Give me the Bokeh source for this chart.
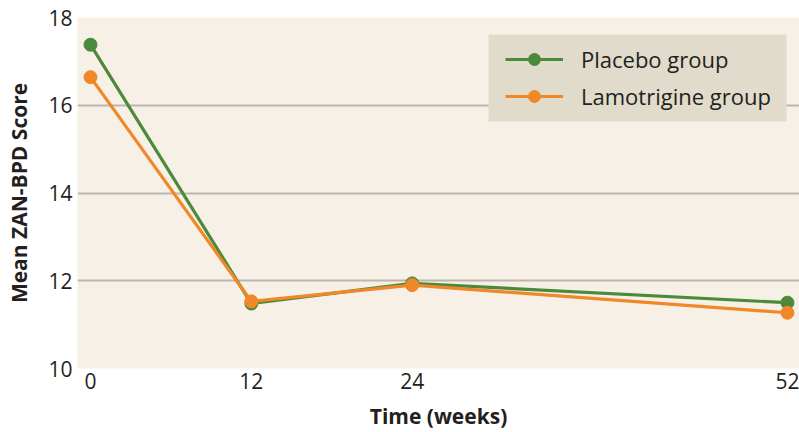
from bokeh.plotting import figure
from bokeh.models import FixedTicker, Legend, LegendItem, Range1d, BoxAnnotation
from bokeh.embed import file_html
from bokeh.resources import INLINE

weeks = [0, 12, 24, 52]
placebo = [17.38, 11.48, 11.94, 11.50]
lamotrigine = [16.64, 11.53, 11.90, 11.27]
series_names = ["Placebo group", "Lamotrigine group"]
x_ticks = [0, 12, 24, 52]
y_ticks = [10, 12, 14, 16, 18]

GREEN = "#4b8a3b"
ORANGE = "#f0882a"
FONT = "Open Sans"

p = figure(width=799, height=432, output_backend="svg", toolbar_location=None,
           x_range=Range1d(-0.97, 52.9), y_range=Range1d(10, 18),
           min_border_left=77, min_border_right=0, min_border_top=17, min_border_bottom=64)
p.background_fill_color = "#f7f0e6"
p.border_fill_color = "white"
p.outline_line_color = None

p.xgrid.grid_line_color = None
p.ygrid.grid_line_color = "#bdb6ae"
p.ygrid.grid_line_width = 2
p.ygrid.ticker = FixedTicker(ticks=y_ticks)

for ax in (p.xaxis[0], p.yaxis[0]):
    ax.axis_line_color = None
    ax.major_tick_line_color = None
    ax.minor_tick_line_color = None
    ax.major_tick_out = 0
    ax.major_tick_in = 0
    ax.minor_tick_out = 0
    ax.minor_tick_in = 0
    ax.major_label_text_font = FONT
    ax.major_label_text_font_size = "21px"
    ax.major_label_text_color = "#231f20"
    ax.axis_label_text_font = FONT
    ax.axis_label_text_font_style = "bold"
    ax.axis_label_text_font_size = "21px"
    ax.axis_label_text_color = "#231f20"

p.xaxis.ticker = FixedTicker(ticks=x_ticks)
p.yaxis.ticker = FixedTicker(ticks=y_ticks)
p.xaxis.major_label_standoff = 4
p.yaxis.major_label_standoff = 5
p.xaxis.axis_label = "Time (weeks)"
p.yaxis.axis_label = "Mean ZAN-BPD Score"
p.xaxis.axis_label_standoff = 10
p.yaxis.axis_label_standoff = 12

# legend background panel (screen units, relative to the plot frame)
panel = BoxAnnotation(left=411, right=709, bottom=247, top=334,
                      left_units="screen", right_units="screen",
                      top_units="screen", bottom_units="screen",
                      fill_color="#e0dbca", fill_alpha=1, line_color=None,
                      level="underlay")
p.add_layout(panel)

l1 = p.line(weeks, placebo, line_color=GREEN, line_width=3.2)
s1 = p.scatter(weeks, placebo, size=13, fill_color=GREEN, line_color=GREEN)
l2 = p.line(weeks, lamotrigine, line_color=ORANGE, line_width=3.2)
s2 = p.scatter(weeks, lamotrigine, size=13, fill_color=ORANGE, line_color=ORANGE)

legend = Legend(items=[LegendItem(label=series_names[0], renderers=[l1, s1]),
                       LegendItem(label=series_names[1], renderers=[l2, s2])],
                location=(428, 257))
legend.background_fill_alpha = 0
legend.border_line_color = None
legend.label_text_font = FONT
legend.label_text_font_size = "22px"
legend.label_text_color = "#231f20"
legend.glyph_width = 58
legend.glyph_height = 30
legend.label_height = 30
legend.label_standoff = 18
legend.spacing = 7
legend.padding = 0
legend.margin = 0
p.add_layout(legend, "center")

open("out.html", "w").write(file_html(p, INLINE))
